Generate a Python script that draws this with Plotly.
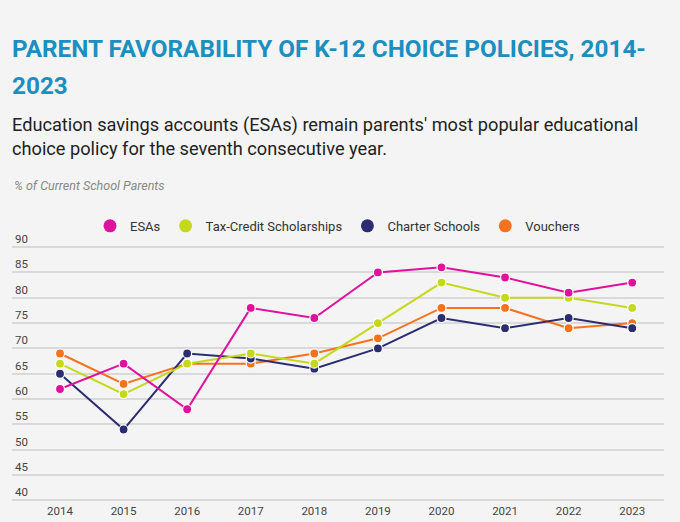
import plotly.graph_objects as go

years = [2014, 2015, 2016, 2017, 2018, 2019, 2020, 2021, 2022, 2023]
esas = [62, 67, 58, 78, 76, 85, 86, 84, 81, 83]
tax_credit = [67, 61, 67, 69, 67, 75, 83, 80, 80, 78]
charter = [65, 54, 69, 68, 66, 70, 76, 74, 76, 74]
vouchers = [69, 63, 67, 67, 69, 72, 78, 78, 74, 75]

series_names = ['ESAs', 'Tax-Credit Scholarships', 'Charter Schools', 'Vouchers']
series_values = [esas, tax_credit, charter, vouchers]
colors = ['#e0119d', '#c5d81c', '#2b2d72', '#f7721c']
y_ticks = [40, 45, 50, 55, 60, 65, 70, 75, 80, 85, 90]

FONT = 'Roboto, Liberation Sans, sans-serif'
BG = '#f4f4f4'

fig = go.Figure()

# data lines (drawn back to front so ESAs ends on top)
for name, vals, col in reversed(list(zip(series_names, series_values, colors))):
    fig.add_trace(go.Scatter(
        x=years, y=vals, mode='lines+markers', name=name, showlegend=False,
        line=dict(color=col, width=2),
        marker=dict(size=9, color=col, line=dict(color='white', width=1.2)),
        hoverinfo='x+y+name',
    ))

# bigger legend dots
for name, col in zip(series_names, colors):
    fig.add_trace(go.Scatter(
        x=[None], y=[None], mode='markers', name=name,
        marker=dict(size=13, color=col),
    ))

fig.update_layout(
    width=680, height=522,
    paper_bgcolor=BG, plot_bgcolor=BG,
    margin=dict(l=12, r=16, t=242, b=20),
    font=dict(family=FONT, color='#444'),
    showlegend=True,
    legend=dict(
        orientation='h', x=0.5, xanchor='center', y=1.062, yanchor='middle',
        font=dict(size=13, color='#333', family=FONT),
        itemsizing='trace', bgcolor='rgba(0,0,0,0)', traceorder='normal',
    ),
    xaxis=dict(
        range=[2013.245, 2023.5], tickvals=years, ticktext=[str(y) for y in years],
        showgrid=False, zeroline=False, showline=False, ticks='', automargin=False,
        tickfont=dict(size=11.5, color='#444'), fixedrange=True,
    ),
    yaxis=dict(
        range=[39.7, 91], tickvals=y_ticks, ticklabelposition='inside top',
        ticklabeloverflow='allow', automargin=False,
        showgrid=True, gridcolor='#d9d9d9', gridwidth=1.5, zeroline=False,
        showline=False, ticks='', tickfont=dict(size=11.5, color='#444'),
        fixedrange=True,
    ),
    annotations=[
        dict(text='PARENT FAVORABILITY OF K-12 CHOICE POLICIES, 2014-',
             xref='paper', yref='paper', x=0.0, y=1.0, xanchor='left', yanchor='middle',
             yshift=194, xshift=-2, showarrow=False, align='left',
             font=dict(size=24.3, color='#1a8fc0', family=FONT, weight='bold')),
        dict(text='2023',
             xref='paper', yref='paper', x=0.0, y=1.0, xanchor='left', yanchor='middle',
             yshift=157, xshift=-2, showarrow=False, align='left',
             font=dict(size=24.3, color='#1a8fc0', family=FONT, weight='bold')),
        dict(text="Education savings accounts (ESAs) remain parents' most popular educational<br>"
                  "choice policy for the seventh consecutive year.",
             xref='paper', yref='paper', x=0.0, y=1.0, xanchor='left', yanchor='top',
             yshift=130, xshift=-2, showarrow=False, align='left',
             font=dict(size=18.2, color='#222', family=FONT)),
        dict(text='<i>% of Current School Parents</i>',
             xref='paper', yref='paper', x=0.0, y=1.0, xanchor='left', yanchor='top',
             yshift=66, showarrow=False, align='left',
             font=dict(size=12.5, color='#888', family=FONT)),
    ],
)

fig.write_html('out.html', config={'displayModeBar': False},
               post_script="document.body.style.margin='0';document.body.style.overflow='hidden';")
